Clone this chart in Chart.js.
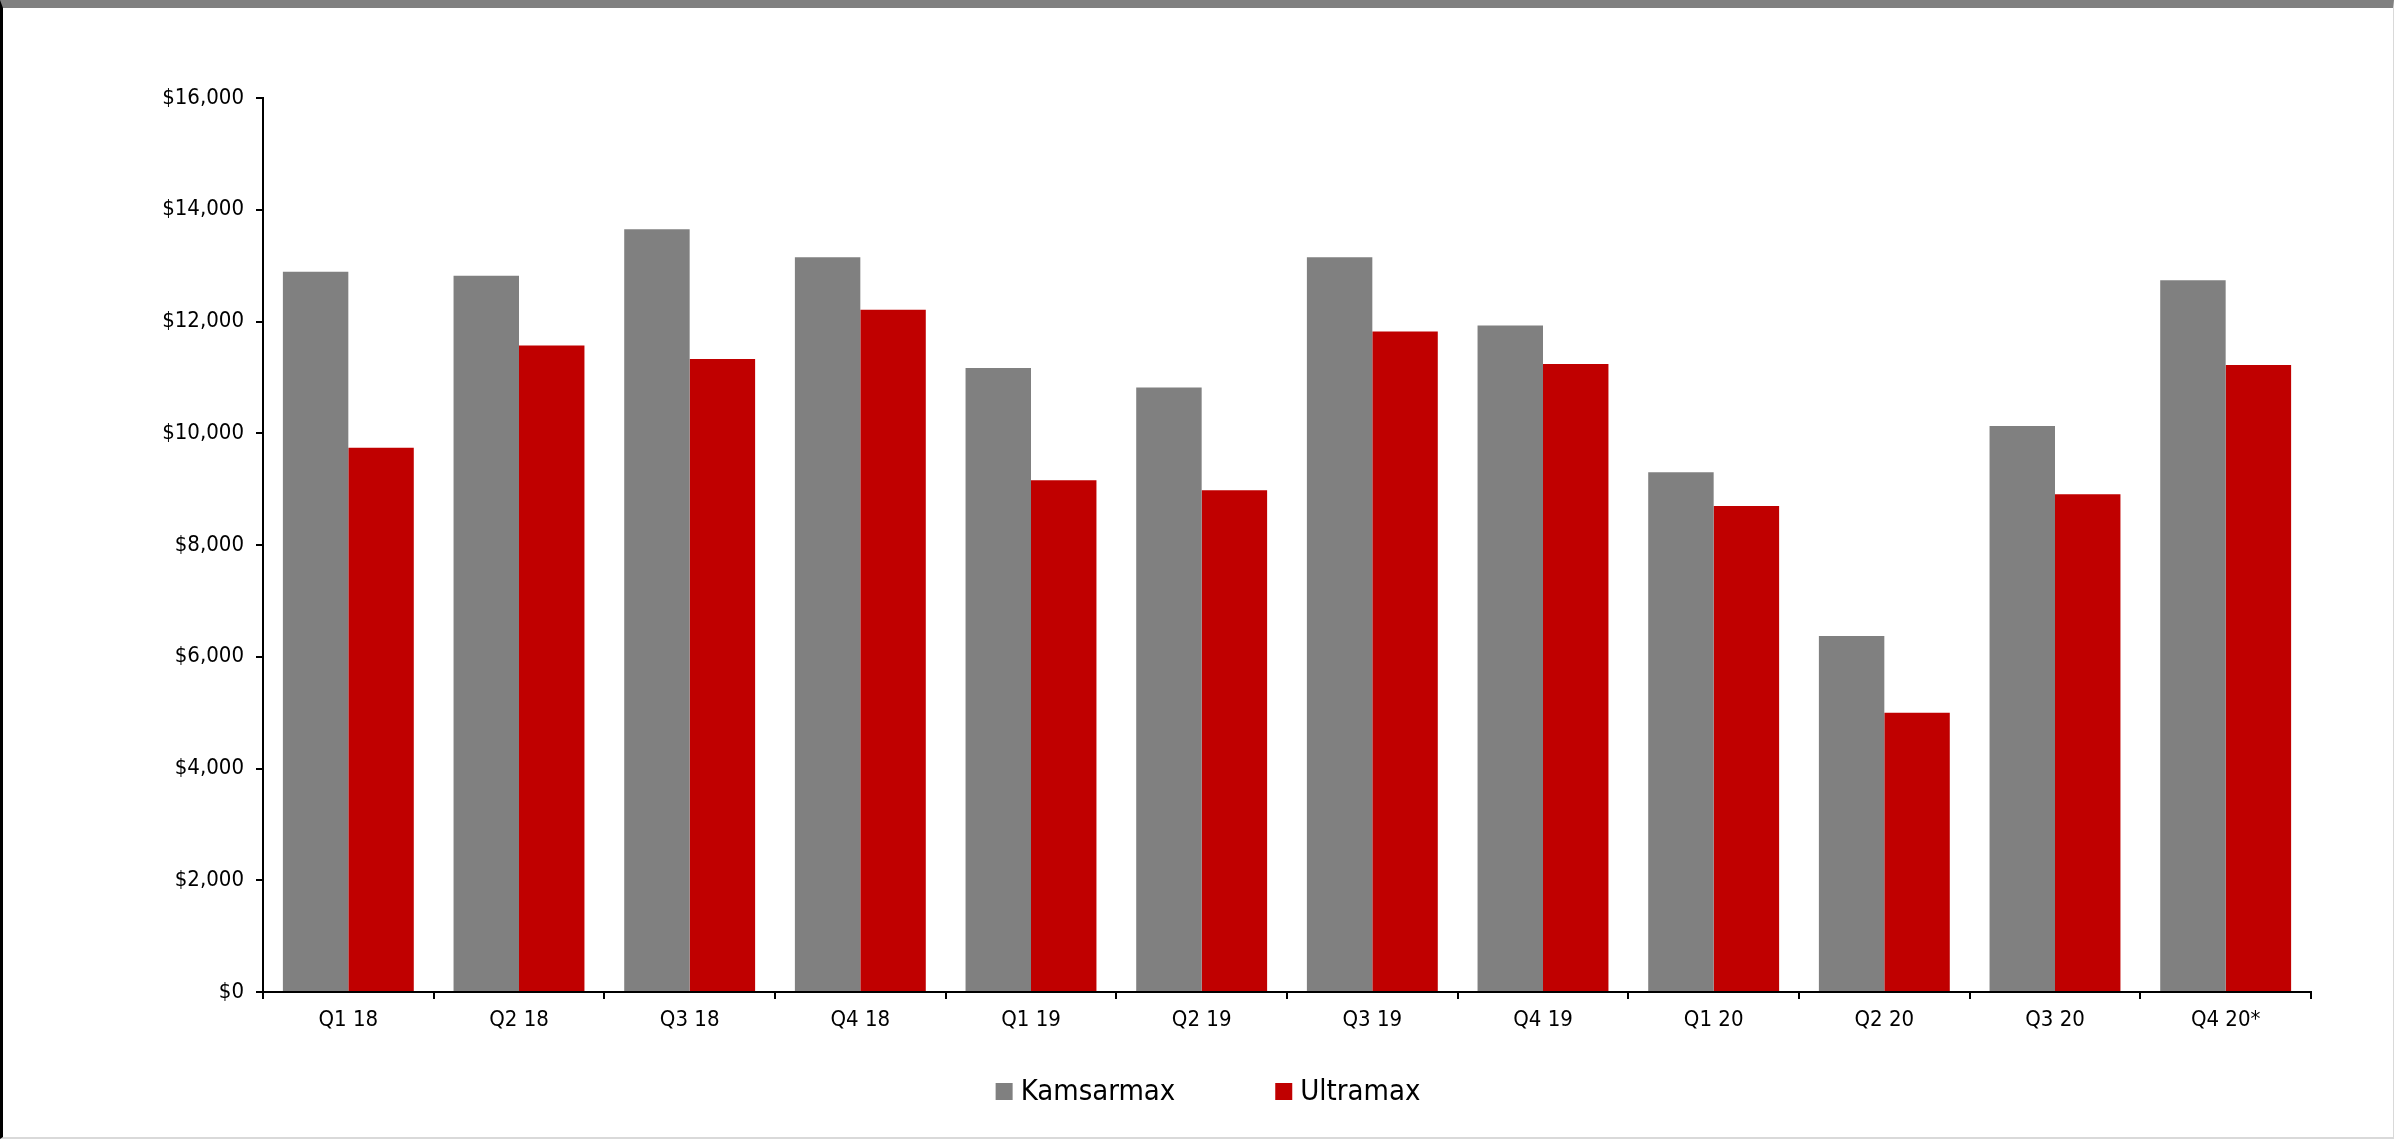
<!DOCTYPE html>
<html>
<head>
<meta charset="utf-8">
<script src="https://cdn.jsdelivr.net/npm/chart.js@4"></script>
<style>
  html, body { margin: 0; padding: 0; background: #fff; }
  #frame {
    position: absolute; left: 0; top: 0;
    width: 2394px; height: 1139px; box-sizing: border-box;
    border-top: 8px solid #808080;
    border-left: 3px solid #000;
    border-right: 1px solid #d9d9d9;
    border-bottom: 2px solid #d9d9d9;
    background: #fff;
  }
  canvas { display: block; }
</style>
</head>
<body>
<div id="frame"><canvas id="c" width="2390" height="1129" style="width:2390px;height:1129px"></canvas></div>
<script>
const categories = ['Q1 18','Q2 18','Q3 18','Q4 18','Q1 19','Q2 19','Q3 19','Q4 19','Q1 20','Q2 20','Q3 20','Q4 20*'];
const kamsarmax = [12890, 12820, 13650, 13150, 11170, 10820, 13150, 11930, 9300, 6370, 10130, 12740];
const ultramax  = [9740, 11570, 11330, 12210, 9160, 8980, 11820, 11240, 8700, 5000, 8910, 11220];
const seriesNames = ['Kamsarmax', 'Ultramax'];
const yMin = 0, yMax = 16000, yStep = 2000;

const FONT = "'DejaVu Sans Condensed', 'DejaVu Sans', sans-serif";

const legendPlugin = {
  id: 'bottomLegend',
  afterDraw(chart) {
    const ctx = chart.ctx;
    const size = 29, box = 17, gap = 8, spacing = 100;
    ctx.save();
    ctx.font = size + "px " + FONT;
    const items = chart.data.datasets.map(d => ({ text: d.label, color: d.backgroundColor, w: ctx.measureText(d.label).width }));
    let total = 0;
    items.forEach((it, i) => { total += box + gap + it.w + (i ? spacing : 0); });
    let x = 1205 - total / 2;
    const boxTop = 1075, baseline = 1092;
    ctx.textBaseline = 'alphabetic';
    ctx.textAlign = 'left';
    items.forEach(it => {
      ctx.fillStyle = it.color;
      ctx.fillRect(x, boxTop, box, box);
      ctx.fillStyle = '#000';
      ctx.fillText(it.text, x + box + gap, baseline);
      x += box + gap + it.w + spacing;
    });
    ctx.restore();
  }
};

new Chart(document.getElementById('c'), {
  type: 'bar',
  data: {
    labels: categories,
    datasets: [
      { label: seriesNames[0], data: kamsarmax, backgroundColor: '#808080', borderWidth: 0 },
      { label: seriesNames[1], data: ultramax, backgroundColor: '#C00000', borderWidth: 0 }
    ]
  },
  options: {
    responsive: false,
    animation: false,
    devicePixelRatio: 1,
    categoryPercentage: 0.767,
    barPercentage: 1.0,
    layout: { padding: { top: 90, left: 0, right: 82, bottom: 95 } },
    plugins: {
      legend: { display: false },
      tooltip: { enabled: false },
      title: { display: false }
    },
    scales: {
      x: {
        afterFit(scale) { scale.height = 50; },
        grid: { display: true, drawOnChartArea: false, drawTicks: true, tickLength: 7, color: '#000', lineWidth: 2, offset: true },
        border: { display: true, color: '#000', width: 2 },
        ticks: { color: '#000', font: { family: FONT, size: 22 }, padding: 8, maxRotation: 0, autoSkip: false }
      },
      y: {
        min: yMin, max: yMax,
        afterFit(scale) { scale.width = 260; },
        grid: { display: true, drawOnChartArea: false, drawTicks: true, tickLength: 7, color: '#000', lineWidth: 2 },
        border: { display: true, color: '#000', width: 2 },
        ticks: {
          stepSize: yStep,
          color: '#000',
          font: { family: FONT, size: 22 },
          padding: 12,
          callback: v => '$' + Number(v).toLocaleString('en-US')
        }
      }
    }
  },
  plugins: [legendPlugin]
});
</script>
</body>
</html>
